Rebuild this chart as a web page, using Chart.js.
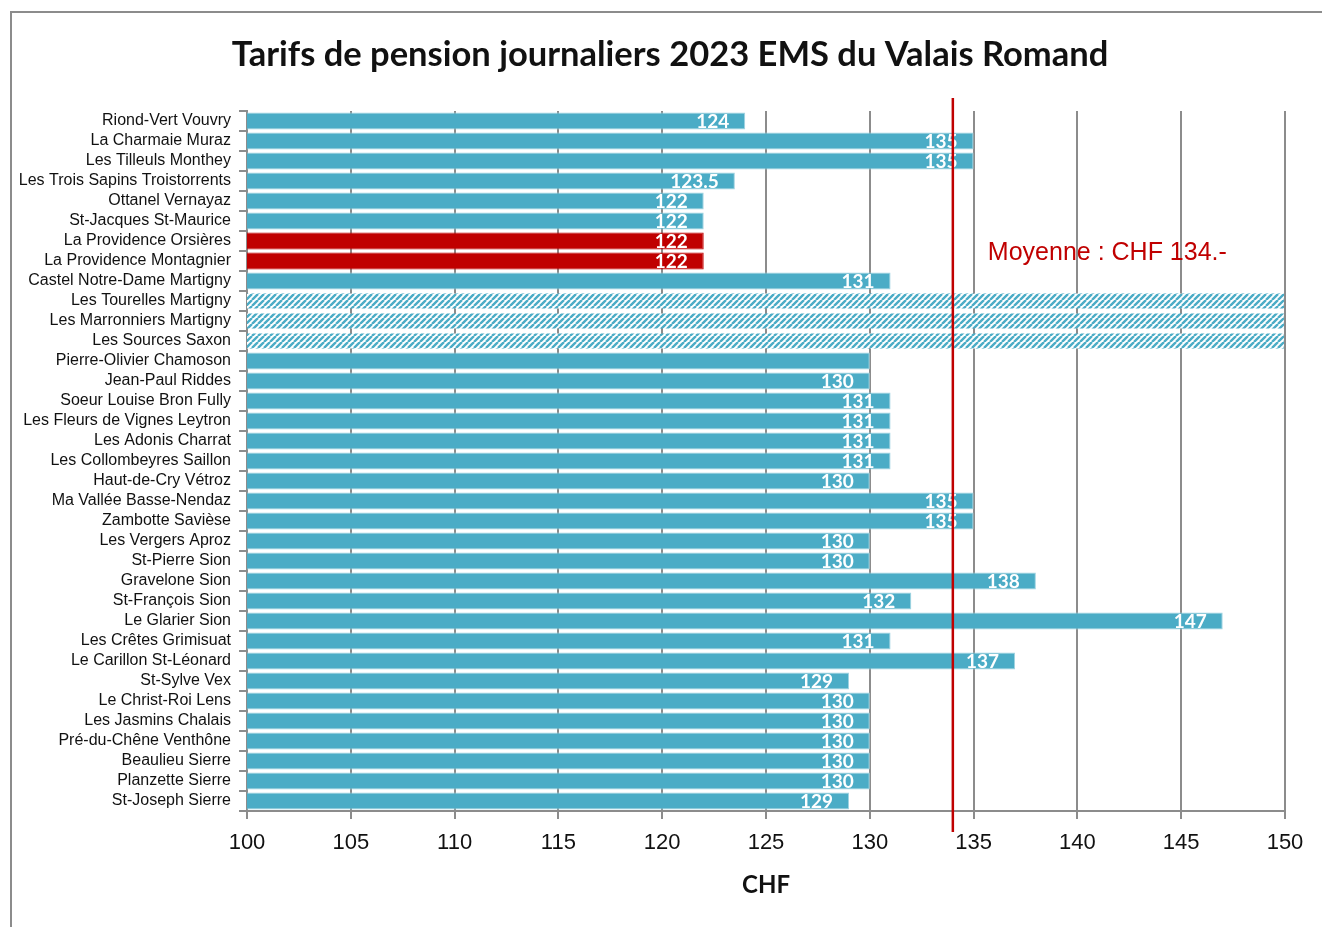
<!DOCTYPE html>
<html>
<head>
<meta charset="utf-8">
<script src="https://cdn.jsdelivr.net/npm/chart.js@4"></script>
<style>
    body { margin: 0; background: #fff; overflow: hidden; }
    #wrap { position: relative; width: 1322px; height: 927px; }
    #frame { position: absolute; left: 10px; top: 11px; width: 1400px; height: 1000px;
             border-left: 2px solid #8c8c8c; border-top: 2px solid #8c8c8c; }
</style>
</head>
<body>
<div id="wrap">
    <div id="frame"></div>
    <canvas id="chart"></canvas>
</div>
<script>
// Data
const etablissements = [
    'Riond-Vert Vouvry', 'La Charmaie Muraz', 'Les Tilleuls Monthey', 'Les Trois Sapins Troistorrents',
    'Ottanel Vernayaz', 'St-Jacques St-Maurice', 'La Providence Orsières', 'La Providence Montagnier',
    'Castel Notre-Dame Martigny', 'Les Tourelles Martigny', 'Les Marronniers Martigny', 'Les Sources Saxon',
    'Pierre-Olivier Chamoson', 'Jean-Paul Riddes', 'Soeur Louise Bron Fully', 'Les Fleurs de Vignes Leytron',
    'Les Adonis Charrat', 'Les Collombeyres Saillon', 'Haut-de-Cry Vétroz', 'Ma Vallée Basse-Nendaz',
    'Zambotte Savièse', 'Les Vergers Aproz', 'St-Pierre Sion', 'Gravelone Sion',
    'St-François Sion', 'Le Glarier Sion', 'Les Crêtes Grimisuat', 'Le Carillon St-Léonard',
    'St-Sylve Vex', 'Le Christ-Roi Lens', 'Les Jasmins Chalais', 'Pré-du-Chêne Venthône',
    'Beaulieu Sierre', 'Planzette Sierre', 'St-Joseph Sierre'
];
const tarifs = [
    124, 135, 135, 123.5,
    122, 122, 122, 122,
    131, 150, 150, 150,
    130, 130, 131, 131,
    131, 131, 130, 135,
    135, 130, 130, 138,
    132, 147, 131, 137,
    129, 130, 130, 130,
    130, 130, 129
];
// 'n' = normal, 'r' = red, 'h' = hatched (no published tariff)
const typeBarre = [
    'n', 'n', 'n', 'n',
    'n', 'n', 'r', 'r',
    'n', 'h', 'h', 'h',
    'n', 'n', 'n', 'n',
    'n', 'n', 'n', 'n',
    'n', 'n', 'n', 'n',
    'n', 'n', 'n', 'n',
    'n', 'n', 'n', 'n',
    'n', 'n', 'n'
];
const sansEtiquette = ['Pierre-Olivier Chamoson'];
const xTicks = [100, 105, 110, 115, 120, 125, 130, 135, 140, 145, 150];
const moyenne = 134;
const moyenneTexte = 'Moyenne : CHF 134.-';

const BLEU = '#4bacc6';
const ROUGE = '#c00000';
const GRIS = '#8c8c8c';
const SANS = "'Liberation Sans', Arial, sans-serif";
const BOLD = "Lato, 'Open Sans', sans-serif";

function makeHatch() {
    const s = 6;
    const c = document.createElement('canvas');
    c.width = s; c.height = s;
    const g = c.getContext('2d');
    g.fillStyle = '#fff';
    g.fillRect(0, 0, s, s);
    g.strokeStyle = BLEU;
    g.lineWidth = 2.4;
    g.beginPath();
    for (let k = -1; k <= 1; k++) {
        g.moveTo(k * s, s);
        g.lineTo(k * s + s, 0);
    }
    g.stroke();
    return document.getElementById('chart').getContext('2d').createPattern(c, 'repeat');
}

const hatch = makeHatch();
const couleurs = typeBarre.map(t => t === 'r' ? ROUGE : (t === 'h' ? hatch : BLEU));
const bordures = typeBarre.map(t => t === 'r' ? ROUGE : (t === 'h' ? 'rgba(0,0,0,0)' : '#9fd3e1'));

const overlayPlugin = {
    id: 'overlay',
    afterDatasetsDraw(chart) {
        const ctx = chart.ctx;
        const meta = chart.getDatasetMeta(0);
        const xs = chart.scales.x;
        const area = chart.chartArea;

        // value labels, inside end
        ctx.save();
        ctx.font = 'bold 19px ' + BOLD;
        ctx.fillStyle = '#fff';
        ctx.textAlign = 'right';
        ctx.textBaseline = 'middle';
        meta.data.forEach((bar, i) => {
            if (typeBarre[i] === 'h' || sansEtiquette.includes(etablissements[i])) return;
            ctx.fillText(String(tarifs[i]), bar.x - 16, bar.y + 1);
        });
        ctx.restore();

        // average line
        const xm = xs.getPixelForValue(moyenne);
        ctx.save();
        ctx.strokeStyle = ROUGE;
        ctx.lineWidth = 2.5;
        ctx.beginPath();
        ctx.moveTo(xm, area.top - 13);
        ctx.lineTo(xm, area.bottom + 21);
        ctx.stroke();
        ctx.font = '25px ' + SANS;
        ctx.fillStyle = ROUGE;
        ctx.textAlign = 'left';
        ctx.textBaseline = 'middle';
        ctx.fillText(moyenneTexte, xm + 35, area.top + 142);
        ctx.restore();
    }
};

new Chart(document.getElementById('chart'), {
    type: 'bar',
    data: {
        labels: etablissements,
        datasets: [{
            data: tarifs,
            backgroundColor: couleurs,
            borderColor: bordures,
            borderWidth: 1,
            barPercentage: 0.84,
            categoryPercentage: 1
        }]
    },
    options: {
        indexAxis: 'y',
        responsive: true,
        maintainAspectRatio: false,
        animation: false,
        layout: { padding: { left: 18, right: 0, top: 0, bottom: 0 } },
        scales: {
            x: {
                min: 100,
                max: 150,
                afterBuildTicks(scale) {
                    scale.ticks = xTicks.map(v => ({ value: v }));
                },
                afterFit(scale) { scale.height = 116; },
                grid: { color: GRIS, lineWidth: 2, tickLength: 8 },
                border: { color: GRIS, width: 2 },
                ticks: {
                    color: '#111',
                    padding: 11,
                    font: { family: SANS, size: 22 }
                },
                title: {
                    display: true,
                    text: 'CHF',
                    color: '#111',
                    font: { family: BOLD, size: 24, weight: 'bold' },
                    padding: { top: 0, bottom: 27 }
                }
            },
            y: {
                afterFit(scale) { scale.width = 229; },
                grid: { drawOnChartArea: false, color: GRIS, lineWidth: 2, tickLength: 8 },
                border: { color: GRIS, width: 2 },
                ticks: {
                    color: '#111',
                    padding: 8,
                    autoSkip: false,
                    font: { family: SANS, size: 16 }
                }
            },
            // empty right margin axis so the title centres like the reference
            marge: {
                axis: 'y',
                position: 'right',
                afterFit(scale) { scale.width = 37; },
                grid: { display: false },
                border: { display: false },
                ticks: { display: false }
            }
        },
        plugins: {
            legend: { display: false },
            tooltip: { enabled: false },
            title: {
                display: true,
                text: 'Tarifs de pension journaliers 2023 EMS du Valais Romand',
                color: '#111',
                font: { family: BOLD, size: 34.5, weight: 'bold' },
                padding: { top: 34.3, bottom: 35.3 }
            }
        }
    },
    plugins: [overlayPlugin]
});
</script>
</body>
</html>
